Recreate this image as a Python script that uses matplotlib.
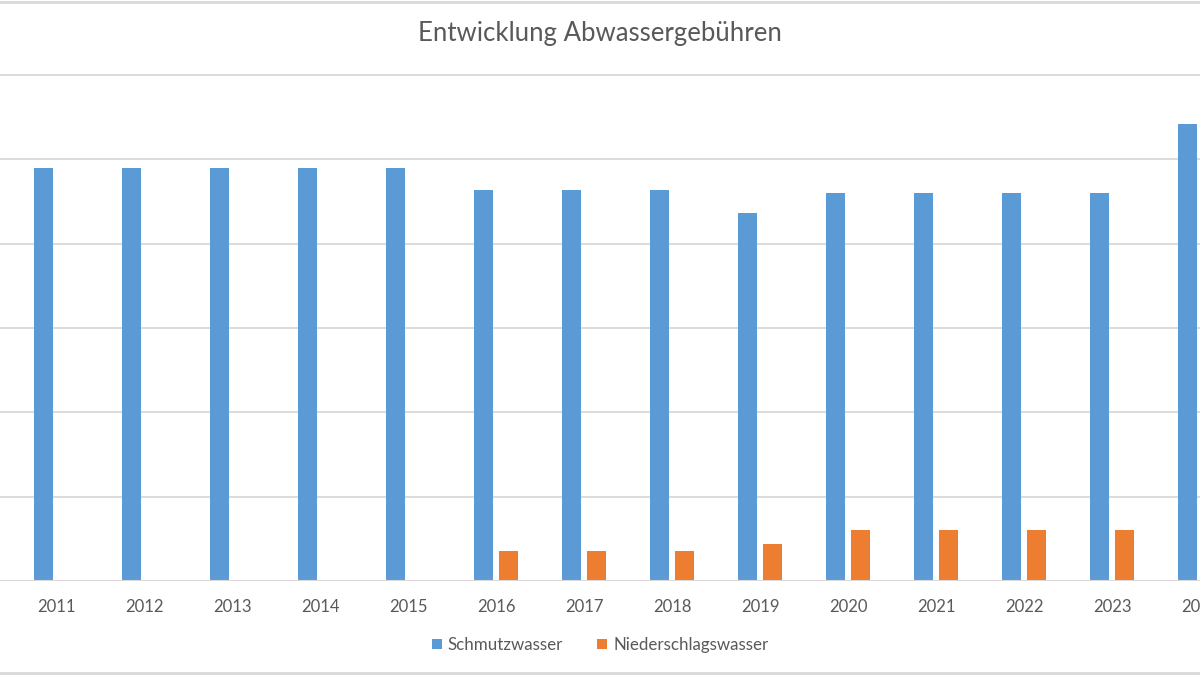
import matplotlib
matplotlib.use("Agg")
import matplotlib.pyplot as plt
import numpy as np
from matplotlib.lines import Line2D

# Daten (Euro je m³)
jahre = ["2011", "2012", "2013", "2014", "2015", "2016", "2017",
         "2018", "2019", "2020", "2021", "2022", "2023", "2024"]
schmutzwasser = [2.45, 2.45, 2.45, 2.45, 2.45, 2.32, 2.32,
                 2.32, 2.18, 2.30, 2.30, 2.30, 2.30, 2.71]
niederschlagswasser = [0, 0, 0, 0, 0, 0.18, 0.18,
                       0.18, 0.22, 0.30, 0.30, 0.30, 0.30, 0.30]
y_ticks = [0, 0.5, 1.0, 1.5, 2.0, 2.5, 3.0]

BLAU = "#5B9BD5"
ORANGE = "#ED7D31"
GRAU_TEXT = "#595959"
GRAU_LINIE = "#D9D9D9"

plt.rcParams['font.family'] = ['Lato', 'DejaVu Sans']

fig = plt.figure(figsize=(12, 6.75), dpi=100)
ax = fig.add_axes([0, 94 / 675, 1, (581 - 66.6) / 675])

x = np.arange(len(jahre))
breite = 0.22
versatz = 0.143
ax.bar(x - versatz, schmutzwasser, breite, color=BLAU, label="Schmutzwasser", zorder=3)
ax.bar(x + versatz, niederschlagswasser, breite, color=ORANGE, label="Niederschlagswasser", zorder=3)

ax.set_xlim(-0.641, 12.933)
ax.set_ylim(0, 3.05)
ax.set_yticks(y_ticks)
ax.set_xticks(x)
ax.set_xticklabels(jahre, fontsize=12, color=GRAU_TEXT)
ax.tick_params(axis="x", length=0, pad=13)
ax.tick_params(axis="y", length=0, labelleft=False)
ax.yaxis.grid(True, color=GRAU_LINIE, linewidth=1.3, zorder=0)
for s in ["top", "right", "left", "bottom"]:
    ax.spines[s].set_visible(False)
ax.axhline(0, color=GRAU_LINIE, linewidth=1.5, zorder=4)

fig.text(0.5, 1 - 34 / 675, "Entwicklung Abwassergebühren", ha="center", va="center",
         fontsize=18.5, color=GRAU_TEXT)

fig.legend(loc="center", bbox_to_anchor=(0.5, 1 - 645 / 675), ncol=2, frameon=False,
           fontsize=12.2, handlelength=0.6, handleheight=0.6, handletextpad=0.35,
           columnspacing=2.0, labelcolor=GRAU_TEXT)

# Rahmenlinien oben und unten
fig.add_artist(Line2D([0, 1], [1 - 1.5 / 675, 1 - 1.5 / 675], color=GRAU_LINIE, linewidth=2))
fig.add_artist(Line2D([0, 1], [1 - 673 / 675, 1 - 673 / 675], color=GRAU_LINIE, linewidth=2))

fig.savefig("out.png", dpi=100)
